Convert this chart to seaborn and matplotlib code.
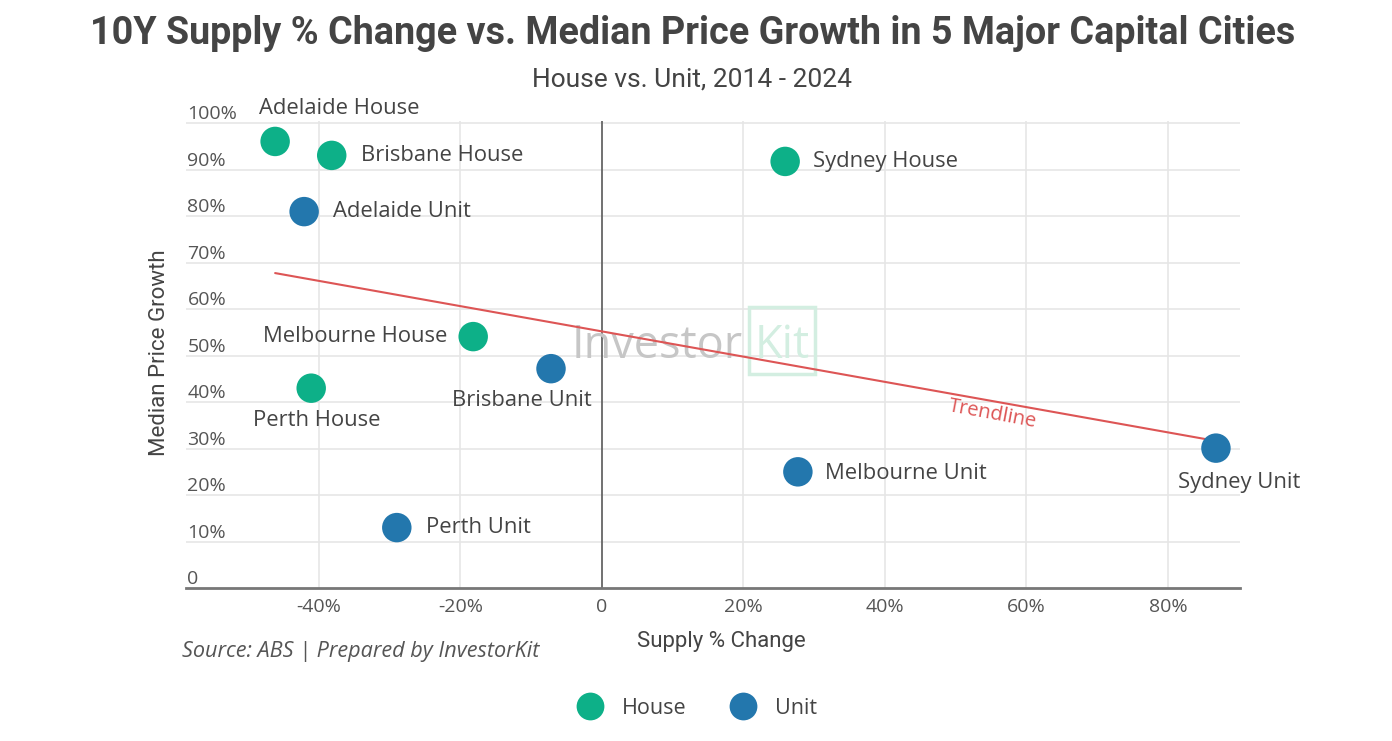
import numpy as np
import pandas as pd
import matplotlib.pyplot as plt
import seaborn as sns
from matplotlib.lines import Line2D
from matplotlib.patches import Rectangle

# --- DATA ---
CITIES = ['Adelaide', 'Brisbane', 'Adelaide', 'Sydney', 'Melbourne',
          'Brisbane', 'Perth', 'Sydney', 'Melbourne', 'Perth']
TYPES = ['House', 'House', 'Unit', 'House', 'House',
         'Unit', 'House', 'Unit', 'Unit', 'Unit']
SUPPLY_CHANGE = [-46.2, -38.2, -42.1, 25.9, -18.2, -7.2, -41.1, 86.8, 27.7, -29.0]
PRICE_GROWTH = [96.1, 93.1, 81.0, 91.8, 54.1, 47.2, 43.0, 30.1, 25.0, 13.0]

X_TICKS = [-40, -20, 0, 20, 40, 60, 80]
X_TICK_LABELS = ['-40%', '-20%', '0', '20%', '40%', '60%', '80%']
Y_TICKS = [0, 10, 20, 30, 40, 50, 60, 70, 80, 90, 100]
Y_TICK_LABELS = ['0', '10%', '20%', '30%', '40%', '50%', '60%', '70%', '80%', '90%', '100%']

# --- STYLE ---
PALETTE = {'House': '#0DB088', 'Unit': '#2377AD'}
TEXT = '#444444'
# label placement: (dx px, dy px, ha)
LABEL_POS = {
    'Adelaide House': (-16, 33, 'left'),
    'Brisbane House': (29, 0, 'left'),
    'Adelaide Unit': (29, 0, 'left'),
    'Sydney House': (28, 0, 'left'),
    'Melbourne House': (-26, 0, 'right'),
    'Brisbane Unit': (-29, -32, 'center'),
    'Perth House': (6, -32, 'center'),
    'Sydney Unit': (23, -34, 'center'),
    'Melbourne Unit': (27, -2, 'left'),
    'Perth Unit': (29, 0, 'left'),
}

df = pd.DataFrame({'City': CITIES, 'Type': TYPES,
                   'Supply': SUPPLY_CHANGE, 'Growth': PRICE_GROWTH})
df['Label'] = df['City'] + ' ' + df['Type']

sns.set_style('white')
plt.rcParams['font.family'] = ['Open Sans', 'DejaVu Sans']

fig = plt.figure(figsize=(13.92, 7.41), dpi=100)
ax = fig.add_axes([186 / 1392, 1 - 588 / 741, 1054 / 1392, 467 / 741])

# grid + zero line
for v in Y_TICKS[1:]:
    ax.axhline(v, color='#e6e6e6', lw=1.2, zorder=0)
for v in X_TICKS:
    if v != 0:
        ax.axvline(v, color='#e6e6e6', lw=1.2, zorder=0)
ax.axvline(0, color='#666666', lw=1.3, zorder=1)

# watermark
ax.text(0.447, 0.4925, 'Investor', transform=ax.transAxes, ha='center', va='baseline',
        fontsize=32.5, color='#c6c6c6', zorder=1)
ax.add_patch(Rectangle((0.534, 0.458), 0.063, 0.143, transform=ax.transAxes,
                       fill=False, ec='#d3eee1', lw=2.5, zorder=1))
ax.text(0.5655, 0.4925, 'Kit', transform=ax.transAxes, ha='center', va='baseline',
        fontsize=32.5, color='#d3eee1', zorder=1)

# trendline
sns.regplot(data=df, x='Supply', y='Growth', scatter=False, ci=None, truncate=True,
            color='#dd5555', line_kws={'lw': 1.5, 'zorder': 2}, ax=ax)
ax.text(55.2, 37.4, 'Trendline', rotation=-10.5, color='#dd5555', fontsize=14.5,
        ha='center', va='center', zorder=3)

sns.scatterplot(data=df, x='Supply', y='Growth', hue='Type', palette=PALETTE,
                s=450, edgecolor='none', legend=False, ax=ax, zorder=4)

for _, r in df.iterrows():
    dx, dy, ha = LABEL_POS[r['Label']]
    ax.annotate(r['Label'], (r['Supply'], r['Growth']), xytext=(dx, dy),
                textcoords='offset pixels', ha=ha, va='center',
                fontsize=15.8, color=TEXT, zorder=5)

ax.set_xlim(-58.8, 90.2)
ax.set_ylim(0, 100.5)
ax.set_xticks(X_TICKS, X_TICK_LABELS, fontsize=14, color='#555555')
ax.set_yticks(Y_TICKS, Y_TICK_LABELS, fontsize=14, color='#555555')
for lab in ax.get_yticklabels():
    lab.set_ha('left')
    lab.set_va('bottom')
ax.tick_params(axis='y', length=0, pad=-1)
ax.tick_params(axis='x', length=0, pad=7)

for s in ['top', 'right', 'left']:
    ax.spines[s].set_visible(False)
ax.spines['bottom'].set_color('#777777')
ax.spines['bottom'].set_linewidth(2)

ax.set_xlabel('Supply % Change', fontsize=16, color=TEXT, family='Roboto')
ax.set_ylabel('Median Price Growth', fontsize=16, color=TEXT, family='Roboto')
ax.xaxis.set_label_coords(0.5076, -0.1135)
ax.xaxis.label.set_va('center')
ax.yaxis.set_label_coords(-0.0247, 0.503)
ax.yaxis.label.set_va('center')

fig.text(0.4975, 1 - 33 / 741, '10Y Supply % Change vs. Median Price Growth in 5 Major Capital Cities',
         ha='center', va='center', fontsize=27.2, weight='bold', family='Roboto', color=TEXT)
fig.text(0.497, 1 - 80 / 741, 'House vs. Unit, 2014 - 2024', ha='center', va='center',
         fontsize=19, family='Roboto', color=TEXT)
fig.text(182 / 1392, 1 - 651 / 741, 'Source: ABS | Prepared by InvestorKit', ha='left',
         va='center', fontsize=15.6, style='italic', color='#555555')

handles = [Line2D([], [], ls='none', marker='o', ms=20, mec='none', mfc=PALETTE[k])
           for k in ['House', 'Unit']]
fig.legend(handles, ['House', 'Unit'], loc='center', bbox_to_anchor=(0.4975, 1 - 708 / 741),
           ncol=2, frameon=False, fontsize=15.5, handletextpad=0.5, columnspacing=1.6,
           labelcolor=TEXT)

fig.savefig('out.png', dpi=100)
